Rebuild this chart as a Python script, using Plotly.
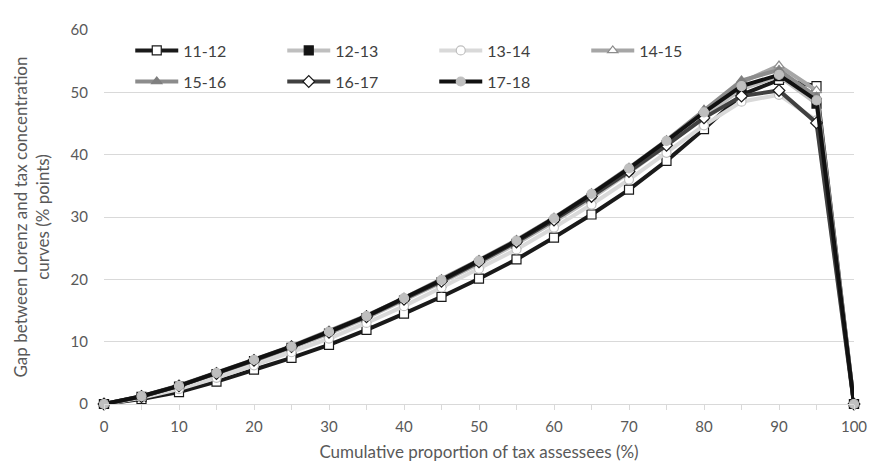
import plotly.graph_objects as go

x_vals = [0, 5, 10, 15, 20, 25, 30, 35, 40, 45, 50, 55, 60, 65, 70, 75, 80, 85, 90, 95, 100]
tick_vals = [0, 5, 10, 15, 20, 25, 30, 35, 40, 45, 50, 55, 60, 65, 70, 75, 80, 85, 90, 95, 100]
tick_text = ["0", "", "10", "", "20", "", "30", "", "40", "", "50", "", "60", "", "70", "", "80", "", "90", "", "100"]

s_11_12 = [0, 0.8, 1.9, 3.6, 5.5, 7.4, 9.5, 11.9, 14.5, 17.2, 20.1, 23.2, 26.7, 30.4, 34.4, 39.0, 44.1, 49.6, 52.0, 51.0, 0]
s_12_13 = [0, 1.15, 2.8, 4.8, 6.9, 9.0, 11.3, 13.8, 16.6, 19.5, 22.5, 25.7, 29.2, 33.0, 37.1, 41.5, 46.2, 50.5, 52.6, 48.2, 0]
s_13_14 = [0, 1.0, 2.4, 4.2, 6.2, 8.3, 10.5, 13.0, 15.7, 18.7, 21.7, 24.8, 28.3, 32.0, 36.0, 40.3, 44.7, 48.5, 49.6, 45.5, 0]
s_14_15 = [0, 1.2, 2.9, 4.9, 7.0, 9.2, 11.6, 14.1, 16.9, 19.9, 23.0, 26.2, 29.8, 33.7, 37.8, 42.2, 47.0, 51.6, 54.3, 50.3, 0]
s_15_16 = [0, 1.25, 3.0, 5.0, 7.1, 9.3, 11.7, 14.2, 17.0, 20.0, 23.1, 26.3, 29.9, 33.8, 37.9, 42.3, 47.2, 51.9, 53.6, 49.3, 0]
s_16_17 = [0, 1.2, 2.9, 4.9, 7.0, 9.2, 11.5, 14.0, 16.8, 19.7, 22.8, 26.0, 29.5, 33.3, 37.3, 41.5, 45.9, 49.4, 50.3, 45.1, 0]
s_17_18 = [0, 1.25, 2.9, 5.0, 7.1, 9.2, 11.6, 14.1, 17.0, 19.9, 23.0, 26.2, 29.8, 33.7, 37.8, 42.2, 46.8, 51.0, 52.8, 48.7, 0]

series = [
    ("11-12", s_11_12, "#1a1a1a", "square", "#ffffff", "#1a1a1a", "legend"),
    ("12-13", s_12_13, "#bfbfbf", "square", "#141414", "#141414", "legend"),
    ("13-14", s_13_14, "#d9d9d9", "circle", "#ffffff", "#bfbfbf", "legend"),
    ("14-15", s_14_15, "#a6a6a6", "triangle-up", "#ffffff", "#8c8c8c", "legend"),
    ("15-16", s_15_16, "#8c8c8c", "triangle-up", "#7f7f7f", "#7f7f7f", "legend2"),
    ("16-17", s_16_17, "#404040", "diamond", "#ffffff", "#1a1a1a", "legend2"),
    ("17-18", s_17_18, "#111111", "circle", "#bfbfbf", "#bfbfbf", "legend2"),
]

fig = go.Figure()
for name, ys, lc, sym, fill, edge, leg in series:
    fig.add_trace(go.Scatter(
        x=x_vals, y=ys, name=name, mode="lines+markers",
        line=dict(color=lc, width=4),
        marker=dict(symbol=sym, size=9, color=fill, line=dict(color=edge, width=1.2)),
        cliponaxis=False, legend=leg,
    ))

font_family = "Lato, 'Open Sans', sans-serif"
legend_common = dict(
    orientation="h", xanchor="left", yanchor="middle",
    entrywidth=94, itemwidth=43, font=dict(size=16, color="#404040"),
    bgcolor="rgba(0,0,0,0)", itemclick=False, itemdoubleclick=False,
)

fig.update_layout(
    width=882, height=463,
    margin=dict(l=96, r=36, t=14, b=65),
    paper_bgcolor="white", plot_bgcolor="white",
    font=dict(family=font_family, size=15, color="#595959"),
    showlegend=True,
    legend=dict(x=0.035, y=0.945, **legend_common),
    legend2=dict(x=0.035, y=0.862, **legend_common),
    xaxis=dict(
        range=[0, 100], tickmode="array", tickvals=tick_vals, ticktext=tick_text,
        showgrid=False, zeroline=False, showline=True, linecolor="#d9d9d9", linewidth=1,
        ticks="outside", ticklen=5, tickcolor="#d9d9d9", ticklabelstandoff=4,
        tickfont=dict(size=15, color="#595959"),
        title=dict(text="Cumulative proportion of tax assessees (%)", font=dict(size=17, color="#595959"), standoff=12),
    ),
    yaxis=dict(
        range=[0, 60], tickvals=[0, 10, 20, 30, 40, 50, 60],
        showgrid=True, gridcolor="#d9d9d9", gridwidth=1, zeroline=False, showline=False,
        ticks="", tickfont=dict(size=15, color="#595959"), ticklabelstandoff=15,
        title=dict(text="Gap between Lorenz and tax concentration<br>curves (% points)", font=dict(size=17, color="#595959"), standoff=16),
    ),
)

fig.write_html("out.html")
